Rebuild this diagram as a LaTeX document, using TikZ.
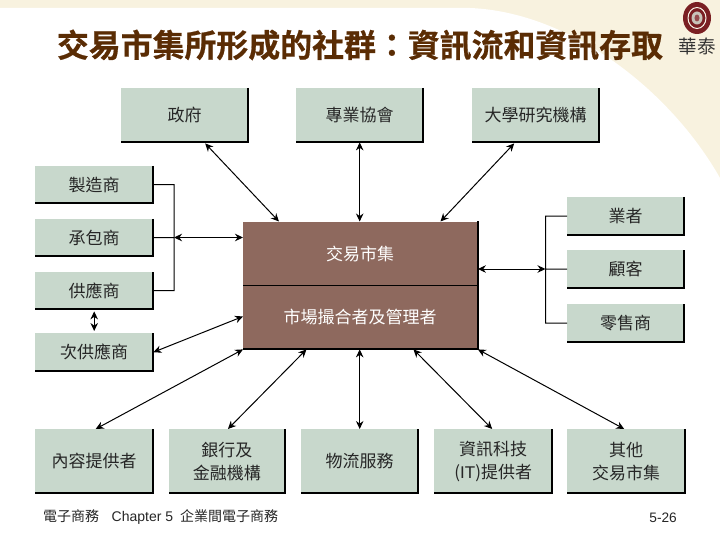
\documentclass[tikz,border=0pt]{standalone}
\usepackage{fontspec}
\setmainfont{Noto Sans CJK TC}
\newfontfamily\latinf{Liberation Sans}
\newfontfamily\titlef[BoldFont=* Bold,BoldFeatures={FakeBold=0.6}]{Noto Sans CJK TC}
\usetikzlibrary{arrows.meta}
\definecolor{cream}{HTML}{F8F2DF}
\definecolor{boxgreen}{HTML}{C8D8CC}
\definecolor{hubbrown}{HTML}{8E695E}
\definecolor{titlebrown}{HTML}{5A2C04}
\definecolor{logored}{HTML}{7A1F22}
\tikzset{
  x=1pt,y=-1pt,
  party/.style={fill=boxgreen,inner sep=0pt,align=center,font=\fontsize{17}{23}\selectfont,text=black!85},
  edgeline/.style={black,line width=1.9pt},
  link/.style={black,line width=1pt},
  twoway/.style={link,{Stealth[length=8pt,width=7.5pt]}-{Stealth[length=8pt,width=7.5pt]}},
  hubtext/.style={text=white,font=\fontsize{17}{20}\selectfont},
}
\newcommand{\pbox}[6]{\node[party,minimum width=#4 pt-#2 pt,minimum height=#5 pt-#3 pt,anchor=north west] (#1) at (#2,#3) {#6};
  \draw[edgeline] (#1.north east) -- (#1.south east) -- (#1.south west);}
\begin{document}
\begin{tikzpicture}
\useasboundingbox (0,0) rectangle (720,540);
\fill[cream] (0,0) rectangle (720,540);
\fill[white] (0,8) -- (470,8) .. controls (570,12) and (670,90) .. (720,178) -- (720,540) -- (0,540) -- cycle;
% title
\node[text=titlebrown,font=\titlef\bfseries\fontsize{31.9}{34}\selectfont,inner sep=0pt] (title) at (360,45) {交易市集所形成的社群：資訊流和資訊存取};
% logo
\fill[logored] (697,18) ellipse [x radius=14,y radius=16];
\draw[cream!70!white,line width=1pt] (697,18) ellipse [x radius=9,y radius=10.5];
\fill[cream!60!gray] (697,18) ellipse [x radius=5.5,y radius=6.5];
\fill[logored!80!white] (697,18) ellipse [x radius=2.5,y radius=3.5];
\node[font=\fontsize{18.5}{20}\selectfont,text=black!80,inner sep=0pt] (brand) at (697,46) {華泰};
% top
\pbox{gov}{121}{88}{248}{142}{政府}
\pbox{assoc}{296}{88}{423}{142}{專業協會}
\pbox{univ}{472}{88}{599}{142}{大學研究機構}
% left
\pbox{maker}{35}{166}{153}{203}{製造商}
\pbox{contr}{35}{219}{153}{256}{承包商}
\pbox{supp}{35}{272}{153}{309}{供應商}
\pbox{subsupp}{35}{333}{153}{371}{次供應商}
% right
\pbox{biz}{567}{197}{684}{235}{業者}
\pbox{cust}{567}{250}{684}{288}{顧客}
\pbox{retail}{567}{304}{684}{342}{零售商}
% bottom
\pbox{content}{35}{429}{153}{493}{內容提供者}
\pbox{bank}{168.5}{429}{285}{493}{銀行及\\金融機構}
\pbox{logi}{301}{429}{418}{493}{物流服務}
\pbox{itp}{434}{429}{552}{493}{資訊科技\\({\latinf IT})提供者}
\pbox{other}{567}{429}{685}{493}{其他\\交易市集}
% hub
\node[fill=hubbrown,minimum width=234.5pt,minimum height=127.5pt,inner sep=0pt,anchor=north west] (hub) at (243,221.5) {};
\draw[edgeline] (hub.north east) -- (hub.south east) -- (hub.south west);
\draw[black,line width=0.8pt] (hub.west) -- (hub.east);
\node[hubtext,inner sep=0pt] (hubtop) at (360,254) {交易市集};
\node[hubtext,inner sep=0pt] (hubbot) at (360,317) {市場撮合者及管理者};
% buses
\coordinate (lbus) at (174,237.5);
\draw[link] (maker.east) -| (lbus) (supp.east) -| (lbus) (contr.east) -- (lbus);
\draw[twoway] (lbus) -- (hub.west |- lbus);
\coordinate (rbus) at (545.5,269);
\draw[link] (biz.west) -| (rbus) (retail.west) -| (rbus) (cust.west) -- (rbus);
\draw[twoway] (hub.east |- rbus) -- (rbus);
% diagonal and vertical connectors
\draw[twoway] ([xshift=20.5pt,yshift=-1pt]gov.south) -- ([xshift=-81.5pt]hub.north);
\draw[twoway] (assoc.south) -- (assoc.south |- hub.north);
\draw[twoway] ([xshift=-21.5pt,yshift=-1pt]univ.south) -- ([xshift=80pt]hub.north);
\draw[twoway] ([yshift=-2pt]supp.south) -- ([yshift=2pt]subsupp.north);
\draw[twoway] (subsupp.east) -- ([yshift=-31pt]hub.west);
\draw[twoway] ([xshift=1.5pt]content.north) -- (hub.south west);
\draw[twoway] ([xshift=1pt]bank.north) -- ([xshift=-54pt]hub.south);
\draw[twoway] (logi.north) -- (logi.north |- hub.south);
\draw[twoway] ([xshift=-1pt]itp.north) -- ([xshift=53pt]hub.south);
\draw[twoway] ([xshift=-2pt]other.north) -- (hub.south east);
% footer
\node[anchor=west,inner sep=0pt,font=\fontsize{14}{15}\selectfont,text=black!85] (foot) at (43,517.5) {電子商務\hspace{12.5pt}{\latinf Chapter 5}\hspace{7pt}企業間電子商務};
\node[anchor=east,inner sep=0pt,font=\latinf\fontsize{13.7}{15}\selectfont,text=black!85] (pg) at (677,517.5) {5-26};
\end{tikzpicture}
\end{document}
